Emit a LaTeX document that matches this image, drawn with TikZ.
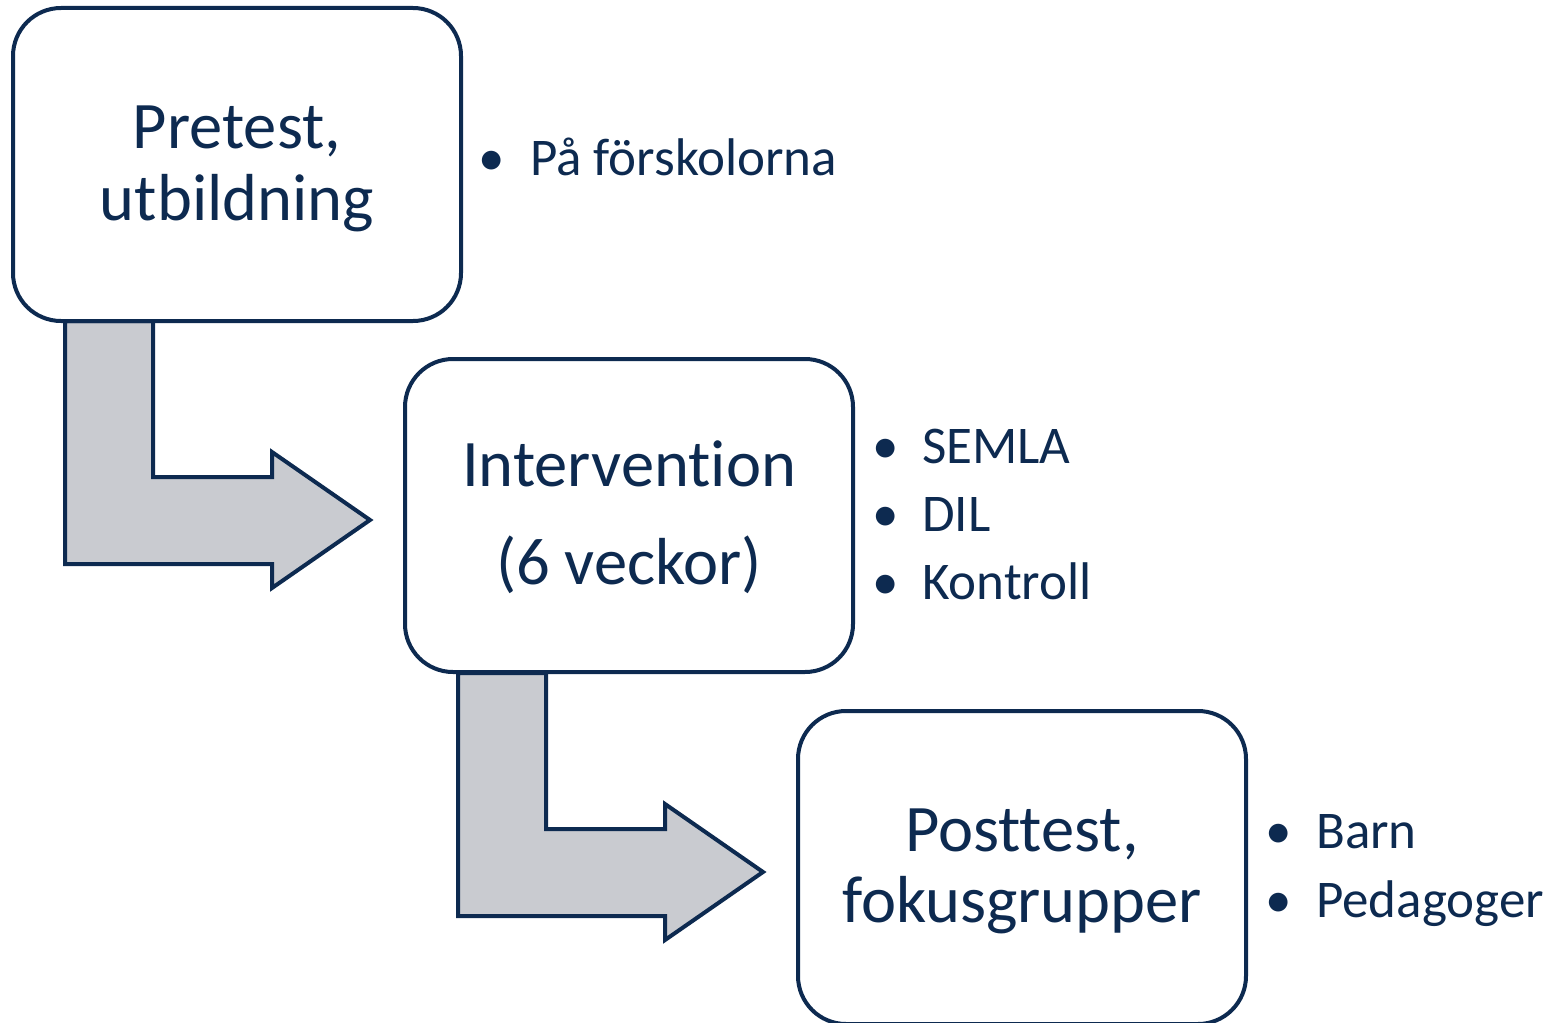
\documentclass[tikz,border=0pt]{standalone}
\usepackage{fontspec}
\setmainfont{Carlito}[Ligatures={NoCommon,NoRare,NoDiscretionary}]
\definecolor{navy}{HTML}{0D2A50}
\definecolor{agray}{HTML}{C9CBD0}
\begin{document}
\begin{tikzpicture}[x=1pt,y=-1pt,
  box/.style={draw=navy, line width=4pt, rounded corners=48pt, fill=white,
    minimum width=448pt, minimum height=313pt, inner sep=0pt},
  bentarrow/.style={draw=navy, line width=4pt, fill=agray, line join=miter},
  boxtext/.style={text=navy, anchor=base, inner sep=0pt, font=\fontsize{66.5}{79}\selectfont},
  bultext/.style={text=navy, anchor=base west, inner sep=0pt, font=\fontsize{53}{63}\selectfont},
  bul/.style={text=navy, anchor=base, inner sep=0pt, font=\fontsize{53}{63}\selectfont}]
\useasboundingbox (0,0) rectangle (1557,1022);
% bent arrows
\draw[bentarrow] (65,321) -- (65,564) -- (272,564) -- (272,588) -- (370,520)
  -- (272,452) -- (272,477) -- (153,477) -- (153,321) -- cycle;
\draw[bentarrow] (458,673) -- (458,916) -- (665,916) -- (665,940) -- (763,872)
  -- (665,804) -- (665,829) -- (546,829) -- (546,673) -- cycle;
% boxes
\node[box] (b1) at (237,164.5) {};
\node[box] (b2) at (629,515.5) {};
\node[box] (b3) at (1022,867.5) {};
% box texts
\node[boxtext] (t1a) at (237,148) {Pretest,};
\node[boxtext] (t1b) at (237,220) {utbildning};
\node[boxtext] (t2a) at (629,486) {Intervention};
\node[boxtext] (t2b) at (629,584) {(6 veckor)};
\node[boxtext] (t3a) at (1022,851) {Posttest,};
\node[boxtext] (t3b) at (1022,922) {fokusgrupper};
% bullets
\node[bul] (d1) at (492,175) {•};
\node[bultext] (l1) at (530,175) {På förskolorna};
\node[bul] (d2) at (886,463) {•};
\node[bultext] (l2) at (922,463) {SEMLA};
\node[bul] (d3) at (886,531) {•};
\node[bultext] (l3) at (922,531) {DIL};
\node[bul] (d4) at (886,599) {•};
\node[bultext] (l4) at (922,599) {Kontroll};
\node[bul] (d5) at (1279,848) {•};
\node[bultext] (l5) at (1316,848) {Barn};
\node[bul] (d6) at (1279,917) {•};
\node[bultext] (l6) at (1316,917) {Pedagoger};
\end{tikzpicture}
\end{document}
